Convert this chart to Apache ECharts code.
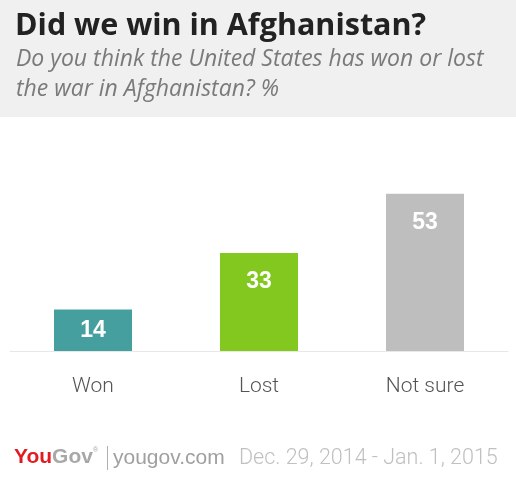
<!DOCTYPE html>
<html><head><meta charset="utf-8">
<script src="https://cdn.jsdelivr.net/npm/echarts@6/dist/echarts.min.js"></script>
<style>html,body{margin:0;padding:0;background:#fff}#c{width:516px;height:489px}</style>
</head><body><div id="c"></div>
<script>
const categories = ["Won", "Lost", "Not sure"];
const values = [14, 33, 53];
const barColors = ["#469f9f", "#82c81e", "#bebebe"];
const titleText = "Did we win in Afghanistan?";
const subtitleLines = ["Do you think the United States has won or lost", "the war in Afghanistan? %"];
const dateText = "Dec. 29, 2014 - Jan. 1, 2015";

const chart = echarts.init(document.getElementById('c'), null, {renderer: 'canvas'});
const data = values.map((v, i) => ({
  value: v,
  itemStyle: {color: barColors[i]},
  label: v < 20 ? {position: 'inside'} : {position: 'insideTop', distance: 17}
}));
chart.setOption({
  animation: false,
  backgroundColor: '#ffffff',
  grid: {left: 10, right: 8, top: 173, bottom: 138},
  xAxis: {
    type: 'category', data: categories,
    axisLine: {lineStyle: {color: '#e8e8e8', width: 1}},
    axisTick: {show: false},
    axisLabel: {color: '#555555', fontSize: 21, fontFamily: 'Roboto', fontWeight: 300, margin: 25}
  },
  yAxis: {type: 'value', min: 0, max: 60, show: false, splitLine: {show: false}},
  series: [{
    type: 'bar', data: data, barWidth: 78,
    label: {show: true, color: '#ffffff', fontSize: 23, fontWeight: 'bold', fontFamily: 'Liberation Sans'}
  }],
  graphic: [
    {type: 'rect', left: 0, top: 0, shape: {width: 516, height: 117}, style: {fill: '#f0f0f0'}, z: -1},
    {type: 'text', left: 15, top: 11, style: {text: titleText, font: 'bold 30.5px "Open Sans"', fill: '#222222'}},
    {type: 'text', left: 16, top: 48, style: {text: subtitleLines[0], font: 'italic 23px "Open Sans"', fill: '#7a7a7a'}},
    {type: 'text', left: 16, top: 78, style: {text: subtitleLines[1], font: 'italic 23px "Open Sans"', fill: '#7a7a7a'}},
    {type: 'text', left: 14, top: 447, style: {
      text: '{r|You}{g|Gov}{s|®}',
      rich: {
        r: {font: 'bold 21px "Liberation Sans"', fill: '#e11b22'},
        g: {font: 'bold 21px "Liberation Sans"', fill: '#a8a8a8'},
        s: {font: '7px "Liberation Sans"', fill: '#a8a8a8', verticalAlign: 'top', padding: [0,0,12,0]}
      }
    }},
    {type: 'line', shape: {x1: 107.5, y1: 446, x2: 107.5, y2: 470}, style: {stroke: '#b0b0b0', lineWidth: 1}},
    {type: 'text', left: 113, top: 448, style: {text: 'yougov.com', font: '21px "Liberation Sans"', fill: '#a0a0a0'}},
    {type: 'text', left: 239, top: 448, style: {text: dateText, font: '300 21.5px Roboto', fill: '#c0c0c0'}}
  ]
});
</script></body></html>
